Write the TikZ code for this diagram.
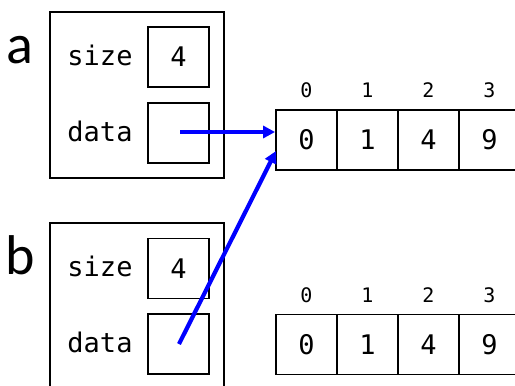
\documentclass[tikz,border=0pt]{standalone}
\usepackage{fontspec}
\setmainfont{Carlito}
\setmonofont{DejaVu Sans Mono}
\usetikzlibrary{arrows.meta}
\begin{document}
\begin{tikzpicture}[x=1pt,y=-1pt,
  frame/.style={draw=black,line width=1.8pt,minimum width=174pt,minimum height=166pt,inner sep=0pt},
  slot/.style={draw=black,line width=1.8pt,minimum width=61pt,minimum height=60pt,inner sep=0pt,font=\ttfamily\fontsize{27}{27}\selectfont},
  cell/.style={draw=black,line width=1.8pt,minimum width=61pt,minimum height=60pt,inner sep=0pt,font=\ttfamily\fontsize{27}{27}\selectfont},
  field/.style={font=\ttfamily\fontsize{27}{27}\selectfont,inner sep=0pt},
  idx/.style={font=\ttfamily\fontsize{20}{20}\selectfont,inner sep=0pt},
  varname/.style={font=\fontsize{56}{56}\selectfont,inner sep=0pt},
  ptr/.style={draw=blue,line width=4.2pt,-{Triangle[length=12pt,width=12pt]}}]
\clip (0,0) rectangle (515,386);
\fill[white] (0,0) rectangle (515,386);

% struct a
\node[frame] (fa) at (137,95) {};
\node[varname,anchor=base] (la) at (20,63) {a};
\node[slot] (sa) at (178.5,57) {4};
\node[slot] (da) at (178.5,133) {};
\node[field] (ta) at (100,55) {size};
\node[field] (tda) at (100,131) {data};

% struct b
\node[frame] (fb) at (137,306) {};
\node[varname,anchor=base] (lb) at (20,274) {b};
\node[slot] (sb) at (178.5,268.5) {4};
\node[slot] (db) at (178.5,344) {};
\node[field] (tb) at (100,266) {size};
\node[field] (tdb) at (100,342) {data};

% array pointed to by both
\foreach \i/\v in {0/0,1/1,2/4,3/9}{
  \node[cell] (ta\i) at (306.5+61*\i,140) {\v};
  \node[idx] (ia\i) at (306.5+61*\i,90) {\i};
}
% second array
\foreach \i/\v in {0/0,1/1,2/4,3/9}{
  \node[cell] (tb\i) at (306.5+61*\i,344.5) {\v};
  \node[idx] (ib\i) at (306.5+61*\i,295) {\i};
}

\coordinate (pa) at (180,132);
\coordinate (pb) at (179,344);
\coordinate (hita) at (ta0.west |- pa);
\coordinate (hitb) at (276,151);
\draw[ptr] (pa) -- (hita);
\draw[ptr] (pb) -- (hitb);
\end{tikzpicture}
\end{document}
